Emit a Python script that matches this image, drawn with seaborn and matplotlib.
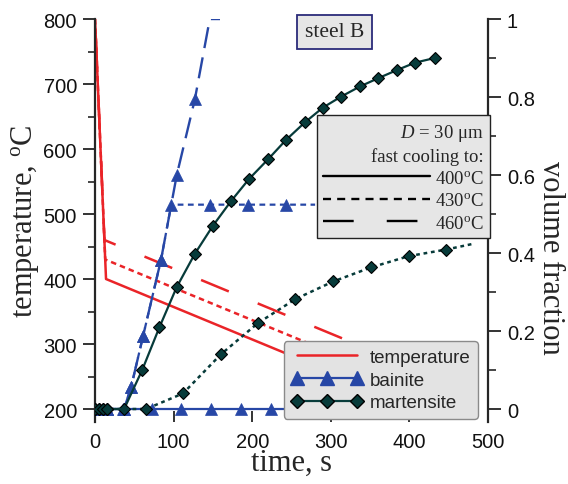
import matplotlib
matplotlib.use("Agg")
import matplotlib.pyplot as plt
from matplotlib.lines import Line2D
from matplotlib.ticker import MultipleLocator, FuncFormatter
import seaborn as sns

# ---- temperature programmes (quench from 800 oC, then slow cooling) ----
temp_time_400 = [0, 14, 330]
temp_400 = [800, 400, 242]
temp_time_430 = [0, 13, 330]
temp_430 = [800, 430, 272]
temp_time_460 = [0, 12, 326]
temp_460 = [800, 460, 303]

# ---- bainite volume fraction ----
bain_time_400 = [0, 5, 10, 15, 35, 73, 110, 148, 186, 224, 262, 300, 338, 376, 414, 452]
bain_400 = [0, 0, 0, 0, 0, 0, 0, 0, 0, 0, 0, 0, 0, 0, 0, 0]
bain_time_430 = [0, 5, 10, 15, 37, 46, 61, 84, 97, 146, 194, 243, 280]
bain_430 = [0, 0, 0, 0, 0, 0.057, 0.186, 0.383, 0.524, 0.524, 0.524, 0.524, 0.524]
bain_time_460 = [0, 5, 10, 15, 37, 46, 61, 84, 104, 127, 146, 159]
bain_460 = [0, 0, 0, 0, 0, 0.057, 0.186, 0.383, 0.60, 0.794, 1.0, 1.0]

# ---- martensite volume fraction ----
mart_time_400 = [0, 5, 10, 15, 37, 60, 82, 104, 127, 150, 173, 196, 220, 243, 267,
                 290, 313, 337, 360, 384, 407, 432]
mart_400 = [0, 0, 0, 0, 0, 0.10, 0.21, 0.313, 0.398, 0.47, 0.533, 0.59, 0.64, 0.69,
            0.735, 0.773, 0.801, 0.827, 0.848, 0.869, 0.888, 0.90]
mart_time_430 = [0, 5, 10, 15, 65, 112, 160, 207, 255, 303, 351, 399, 447, 482]
mart_430 = [0, 0, 0, 0, 0, 0.04, 0.14, 0.22, 0.282, 0.327, 0.363, 0.392, 0.409, 0.424]

x_ticks = [0, 100, 200, 300, 400, 500]
t_ticks = [200, 300, 400, 500, 600, 700, 800]
f_ticks = [0, 0.2, 0.4, 0.6, 0.8, 1.0]

RED = "#ea2428"
BLUE = "#2747a6"
TEAL = "#073b3a"
SERIF = "Liberation Serif"
SANS = "Liberation Sans"

sns.set_style("ticks")
plt.rcParams["font.family"] = [SANS, "DejaVu Sans"]
plt.rcParams["mathtext.fontset"] = "custom"
plt.rcParams["mathtext.rm"] = SERIF
plt.rcParams["mathtext.it"] = SERIF + ":italic"

SOLID = "-"
SHORT = (0, (2.2, 1.6))
LONG = (16.7, (12, 12.5))

fig = plt.figure(figsize=(5.68, 4.85), dpi=100)
ax = fig.add_axes([0.1673, 0.1278, 0.6919, 0.8309])
ax2 = ax.twinx()

# temperature on the left axis
for tt, tv, ls in [(temp_time_400, temp_400, SOLID),
                   (temp_time_430, temp_430, SHORT),
                   (temp_time_460, temp_460, LONG)]:
    sns.lineplot(x=tt, y=tv, ax=ax, color=RED, linestyle=ls, lw=1.8,
                 sort=False, estimator=None, legend=False)

# phase fractions on the right axis
mk_b = dict(marker="^", markersize=8, markeredgecolor=BLUE, markerfacecolor=BLUE,
            markeredgewidth=0.5)
mk_m = dict(marker="D", markersize=6.5, markeredgecolor="black", markerfacecolor=TEAL,
            markeredgewidth=0.8)

sns.lineplot(x=bain_time_400, y=bain_400, ax=ax2, color=BLUE, linestyle=SOLID, lw=1.6,
             sort=False, estimator=None, legend=False, **mk_b)
sns.lineplot(x=bain_time_430, y=bain_430, ax=ax2, color=BLUE, linestyle=(0, (2.6, 2.0)),
             lw=1.6, sort=False, estimator=None, legend=False,
             markevery=slice(0, len(bain_time_430) - 1), **mk_b)
sns.lineplot(x=bain_time_460, y=bain_460, ax=ax2, color=BLUE, linestyle=(0, (9, 4)),
             lw=1.7, sort=False, estimator=None, legend=False,
             markevery=slice(0, len(bain_time_460) - 2), **mk_b)
sns.lineplot(x=mart_time_400, y=mart_400, ax=ax2, color=TEAL, linestyle=SOLID, lw=1.6,
             sort=False, estimator=None, legend=False, **mk_m)
sns.lineplot(x=mart_time_430, y=mart_430, ax=ax2, color=TEAL, linestyle=(0, (1.5, 1.5)),
             lw=1.8, sort=False, estimator=None, legend=False,
             markevery=slice(0, len(mart_time_430) - 1), **mk_m)

# axes limits and ticks
ax.set_xlim(0, 500)
ax.set_ylim(180, 800)
ax2.set_ylim(-1 / 30, 1)
ax.set_xticks(x_ticks)
ax.set_yticks(t_ticks)
ax.yaxis.set_minor_locator(MultipleLocator(50))
ax2.set_yticks(f_ticks)
ax2.yaxis.set_minor_locator(MultipleLocator(0.1))
ax2.yaxis.set_major_formatter(FuncFormatter(lambda v, p: f"{v:g}"))

for a in (ax, ax2):
    for s in ("top", "bottom"):
        a.spines[s].set_visible(False)
    a.tick_params(labelsize=14.5, width=1.2, colors="#111111")
ax.spines["right"].set_visible(False)
ax2.spines["left"].set_visible(False)
ax.spines["left"].set_linewidth(1.6)
ax2.spines["right"].set_linewidth(1.6)
ax.tick_params(axis="y", which="major", length=8.5, pad=4.5)
ax.tick_params(axis="y", which="minor", length=5, width=1.2)
ax2.tick_params(axis="y", which="major", length=9, pad=4.5)
ax2.tick_params(axis="y", which="minor", length=5.5, width=1.2)
ax.tick_params(axis="x", direction="in", length=8, pad=7)

ax.set_xlabel("time, s", fontfamily=SERIF, fontsize=22, labelpad=-2)
ax.set_ylabel("temperature, $^{\\rm o}$C", fontfamily=SERIF, fontsize=22, labelpad=2)
ax2.set_ylabel("volume fraction", fontfamily=SERIF, fontsize=22, rotation=270,
               labelpad=22)
ax2.yaxis.label.set_y(0.41)

# specimen tag
ax2.text(0.61, 0.968, "steel B", transform=ax2.transAxes, fontfamily=SERIF,
         fontsize=15.5, ha="center", va="center",
         bbox=dict(boxstyle="square,pad=0.36", fc="#e6e6e6", ec="#2b2b7a", lw=1.3))

# legend for the cooling programmes
prog_handles = [Line2D([], [], color="black", lw=1.7, linestyle=SOLID),
                Line2D([], [], color="black", lw=1.7, linestyle=(0, (3.4, 2.6))),
                Line2D([], [], color="black", lw=1.7, linestyle=(0, (13, 14)))]
prog_labels = ["400$^{\\rm o}$C", "430$^{\\rm o}$C", "460$^{\\rm o}$C"]
leg1 = ax2.legend(prog_handles, prog_labels, title="$D$ = 30 μm\nfast cooling to:",
                  loc="upper right", bbox_to_anchor=(490 / 568, 1 - 116 / 485),
                  bbox_transform=fig.transFigure, borderaxespad=0,
                  prop=dict(family=SERIF, size=13.5),
                  title_fontproperties=dict(family=SERIF, size=13.5),
                  alignment="right", handlelength=5.7, handletextpad=0.25,
                  labelspacing=0.28, borderpad=0.35, fancybox=False,
                  facecolor="#e6e6e6", edgecolor="#222222", framealpha=1)
leg1.get_title().set_multialignment("right")
leg1.get_title().set_linespacing(1.3)
leg1.get_frame().set_linewidth(1.0)
ax2.add_artist(leg1)

# legend for the curve families
fam_handles = [Line2D([], [], color=RED, lw=1.8),
               Line2D([], [], color=BLUE, lw=1.6, marker="^", markersize=9.5,
                      markerfacecolor=BLUE, markeredgecolor=BLUE),
               Line2D([], [], color=TEAL, lw=1.6, marker="D", markersize=7.5,
                      markerfacecolor=TEAL, markeredgecolor="black")]
leg2 = ax2.legend(fam_handles, ["temperature", "bainite", "martensite"],
                  loc="lower right", bbox_to_anchor=(478 / 568, 1 - 420 / 485),
                  bbox_transform=fig.transFigure, borderaxespad=0, numpoints=3,
                  prop=dict(family=SANS, size=13.5), handlelength=3.8,
                  handletextpad=0.4, labelspacing=0.3, borderpad=0.4,
                  fancybox=True, facecolor="#e3e3e3", edgecolor="#8a8a8a",
                  framealpha=1)
leg2.get_frame().set_linewidth(1.0)

fig.savefig("out.png", dpi=100)
